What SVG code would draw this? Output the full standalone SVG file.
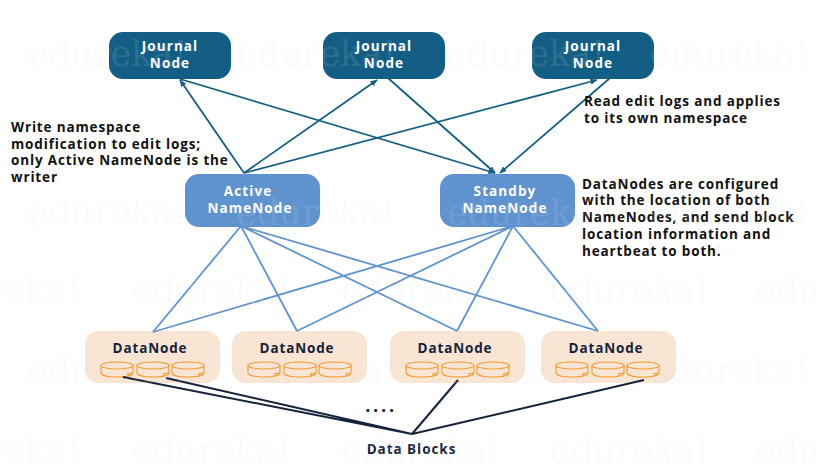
<svg xmlns="http://www.w3.org/2000/svg" width="816" height="467" viewBox="0 0 816 467">
<style>
text{font-family:"Open Sans","Noto Sans",sans-serif;font-weight:700}
.n{font-size:13.5px;letter-spacing:1.1px;text-anchor:middle;fill:#fff}
.a{font-size:13.5px;letter-spacing:.85px;fill:#111}
.d{font-size:13.5px;letter-spacing:.85px;text-anchor:middle;fill:#14233c}
.w{font-family:"DejaVu Serif",serif;font-size:35px;fill:#e0e0e0;fill-opacity:.14;font-weight:400}
.j{fill:#135e85}.m{fill:#5f93cf}.b{fill:#f9e5d3}
.cj{fill:none;stroke:#135e85;stroke-width:1.8;marker-end:url(#h)}
.cm{fill:none;stroke:#5f93cf;stroke-width:1.8}
.ck{fill:none;stroke:#14233c;stroke-width:2}
.disk{fill:none;stroke:#f39a2e;stroke-width:1.1}
</style>
<defs>
<marker id="h" markerWidth="8" markerHeight="8" refX="6.5" refY="3" orient="auto" markerUnits="userSpaceOnUse"><path d="M0 0L7 3L0 6z" fill="#135e85"/></marker>
<g id="dk"><ellipse cx="16" cy="3.5" rx="16" ry="3.5" class="disk"/><path class="disk" d="M0 3.5V11C1 14 8 15 16 15S31 14 32 11V3.5M27 13.5V11.5L32 11"/></g>
</defs>
<g id="jn1"><rect class="j" x="109" y="32" width="122" height="47" rx="14"/><text class="n" x="170" y="51">Journal</text><text class="n" x="170" y="68">Node</text></g>
<g id="jn2"><rect class="j" x="323" y="32" width="122" height="47" rx="14"/><text class="n" x="384" y="51">Journal</text><text class="n" x="384" y="68">Node</text></g>
<g id="jn3"><rect class="j" x="532" y="32" width="122" height="47" rx="14"/><text class="n" x="593" y="51">Journal</text><text class="n" x="593" y="68">Node</text></g>
<g id="active"><rect class="m" x="185" y="174" width="135" height="53" rx="14"/><text class="n" x="248" y="196">Active</text><text class="n" x="250" y="213">NameNode</text></g>
<g id="standby"><rect class="m" x="440" y="174" width="135" height="53" rx="14"/><text class="n" x="505" y="196">Standby</text><text class="n" x="505" y="213">NameNode</text></g>
<g id="dn1"><rect class="b" x="85" y="331" width="135" height="52" rx="14"/><text class="d" x="150" y="353">DataNode</text><use href="#dk" x="101" y="362"/><use href="#dk" x="137" y="362"/><use href="#dk" x="172" y="362"/></g>
<g id="dn2"><rect class="b" x="232" y="331" width="135" height="52" rx="14"/><text class="d" x="297" y="353">DataNode</text><use href="#dk" x="248" y="362"/><use href="#dk" x="284" y="362"/><use href="#dk" x="319" y="362"/></g>
<g id="dn3"><rect class="b" x="390" y="331" width="135" height="52" rx="14"/><text class="d" x="455" y="353">DataNode</text><use href="#dk" x="406" y="362"/><use href="#dk" x="442" y="362"/><use href="#dk" x="477" y="362"/></g>
<g id="dn4"><rect class="b" x="541" y="331" width="135" height="52" rx="14"/><text class="d" x="606" y="353">DataNode</text><use href="#dk" x="556" y="362"/><use href="#dk" x="592" y="362"/><use href="#dk" x="627" y="362"/></g>
<g id="connectors">
<path class="cj" d="M244 173L180 80"/><path class="cj" d="M244 173L377 80"/><path class="cj" d="M244 173L597 80"/>
<path class="cj" d="M180 79L495 173"/><path class="cj" d="M388 78L495 173"/><path class="cj" d="M610 78L500 173"/>
<path class="cm" d="M241 226L153 332M241 226L297 331M241 226L457 331M241 226L598 331"/>
<path class="cm" d="M513 226L153 332M513 226L297 331M513 226L457 331M513 226L598 331"/>
<path class="ck" d="M123 377L412 434M166 378L412 434M458 380L412 434M644 380L412 434"/>
</g>
<g id="labels">
<text class="a" x="11" y="132">Write namespace</text><text class="a" x="11" y="149">modification to edit logs;</text><text class="a" x="11" y="165">only Active NameNode is the</text><text class="a" x="11" y="182">writer</text>
<text class="a" x="584" y="106">Read edit logs and applies</text><text class="a" x="584" y="123">to its own namespace</text>
<text class="a" x="582" y="189">DataNodes are configured</text><text class="a" x="582" y="205">with the location of both</text><text class="a" x="582" y="222">NameNodes, and send block</text><text class="a" x="582" y="239">location information and</text><text class="a" x="582" y="256">heartbeat to both.</text>
<text class="d" x="411.500" y="454" style="font-size:13.500px;letter-spacing:.95px">Data Blocks</text>
<text class="d" x="381" y="412" style="font-size:18px;letter-spacing:2.800px">....</text>
</g>
<g id="watermark">
<text class="w" x="28" y="66">edureka!</text><text class="w" x="237" y="66">edureka!</text><text class="w" x="446" y="66">edureka!</text><text class="w" x="650" y="66">edureka!</text>
<text class="w" x="28" y="225">edureka!</text><text class="w" x="236" y="225">edureka!</text><text class="w" x="447" y="225">edureka!</text><text class="w" x="650" y="225">edureka!</text>
<text class="w" x="-78" y="303">edureka!</text><text class="w" x="132" y="303">edureka!</text><text class="w" x="341" y="303">edureka!</text><text class="w" x="550" y="303">edureka!</text><text class="w" x="755" y="303">edureka!</text>
<text class="w" x="27" y="383">edureka!</text><text class="w" x="237" y="383">edureka!</text><text class="w" x="446" y="383">edureka!</text><text class="w" x="650" y="383">edureka!</text>
<text class="w" x="-78" y="463">edureka!</text><text class="w" x="132" y="463">edureka!</text><text class="w" x="341" y="463">edureka!</text><text class="w" x="550" y="463">edureka!</text><text class="w" x="755" y="463">edureka!</text>
</g>
</svg>
